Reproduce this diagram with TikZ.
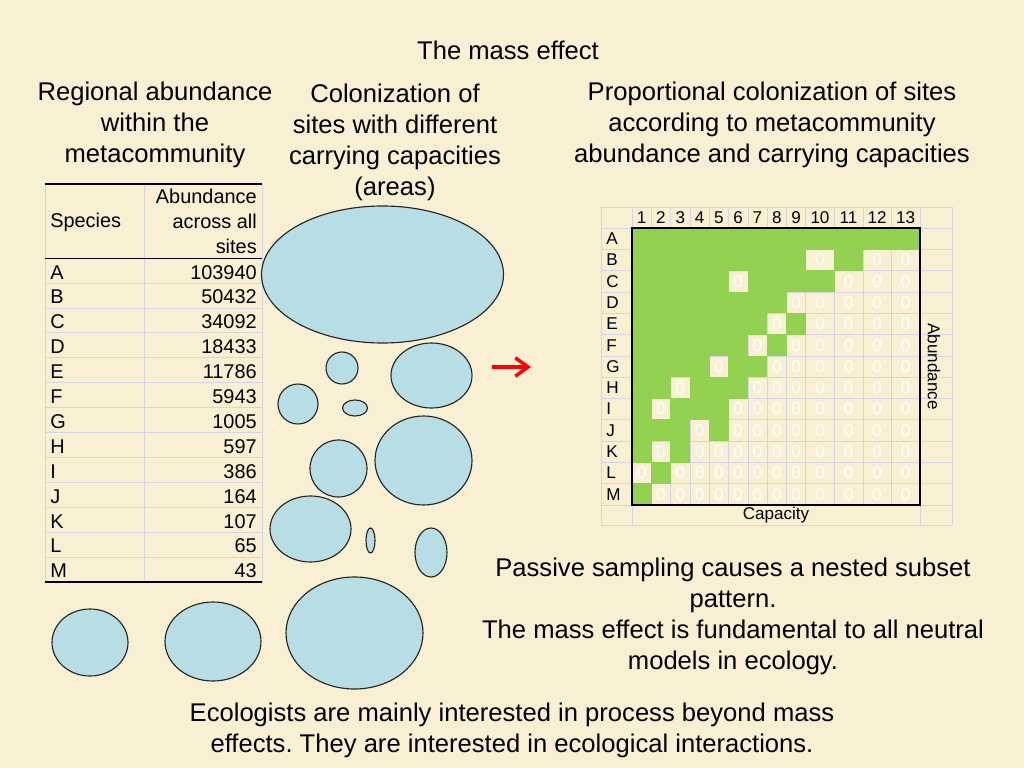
\documentclass[tikz,border=0pt]{standalone}
\usepackage{fontspec}
\setmainfont{Liberation Sans}
\frenchspacing
\usetikzlibrary{arrows.meta,positioning}
\definecolor{parch}{RGB}{249,239,210}
\definecolor{pool}{RGB}{183,222,228}
\definecolor{occ}{RGB}{146,208,80}
\definecolor{gridc}{RGB}{214,212,226}
\tikzset{
  big/.style={font=\fontsize{18}{21.8}\selectfont, align=center, inner sep=0pt},
  tab/.style={font=\fontsize{14}{17.6}\selectfont, inner sep=0pt},
  mat/.style={font=\fontsize{12}{14}\selectfont, inner sep=0pt},
  zero/.style={mat, text=white},
  site/.style={draw=black!85, line width=0.8pt, fill=pool}
}

\begin{document}
\begin{tikzpicture}[x=0.703125pt, y=-0.703125pt]
        \fill[parch] (0,0) rectangle (1024,768);
        \useasboundingbox (0,0) rectangle (1024,768);

        \node[big] (title) at (508,50) {The mass effect};
        \node[big] (regional) at (155,125) {Regional abundance\\within the\\metacommunity};
        \node[big] (colon) at (395,142.5) {Colonization of\\sites with different\\carrying capacities\\(areas)};
        \node[big] (propo) at (772,125) {Proportional colonization of sites\\according to metacommunity\\abundance and carrying capacities};
        \node[big] (passive) at (733,616.5) {Passive sampling causes a nested subset\\pattern.\\The mass effect is fundamental to all neutral\\models in ecology.};
        \node[big] (ecolog) at (512,730.5) {Ecologists are mainly interested in process beyond mass\\effects. They are interested in ecological interactions.};

        % abundance table
        \foreach \k in {1,...,12}
            \draw[gridc] (45,{258+24.9*\k}) -- (262,{258+24.9*\k});
        \foreach \x in {45,144,262}
            \draw[gridc] (\x,184) -- (\x,582);
        \draw[line width=0.6pt] (45,258) -- (262,258);
        \draw[line width=1.5pt] (45,184) -- (262,184);
        \draw[line width=1.5pt] (45,582) -- (262,582);
        \node[tab, anchor=west] (species) at (50,222) {Species};
        \node[tab, anchor=east, align=right] (across) at (257,221.5) {Abundance\\across all\\sites};
        \foreach \sp/\ab [count=\i] in {A/103940, B/50432, C/34092, D/18433, E/11786, F/5943,
            G/1005, H/597, I/386, J/164, K/107, L/65, M/43}
        {
            \node[tab, anchor=west] (sp-\sp) at (50,{247.3+24.9*\i}) {\sp};
            \node[tab, anchor=east] (ab-\sp) at (257,{247.3+24.9*\i}) {\ab};
        };

        % sites
        \foreach \cx/\cy/\rx/\ry in {382.5/274.5/121/68.5, 342/368/16/16, 431.5/375.5/40.5/32.5,
            298/404/20/20, 355/408/12.5/8, 423.5/460.5/48.5/44.5, 338.5/468.5/28.5/28.5,
            310.5/529/40.5/33, 370.5/540.5/4.5/12.5, 431/552.5/16/24.5,
            90/642.5/38/33.5, 213/641.5/48/39.5, 354.5/633/68.5/56}
            \draw[site] (\cx,\cy) ellipse [x radius=\rx, y radius=\ry];

        \coordinate (arrow-tail) at (492,367);
        \coordinate (arrow-head) at (531,367);
        \draw[red, line width=2.4pt, -{Straight Barb[length=9pt,width=13pt]}] (arrow-tail) -- (arrow-head);

        % incidence matrix
        \foreach \k in {0,...,13}
            \draw[gridc] (601,{228+21.3*\k}) -- (952,{228+21.3*\k});
        \draw[gridc] (601,207) -- (952,207);
        \draw[gridc] (601,525) -- (952,525);
        \foreach \x in {601,632,920,952}
            \draw[gridc] (\x,207) -- (\x,525);
        \foreach \x in {651.3,670.6,689.9,709.2,728.5,747.8,767.1,786.4,805.7,834.3,862.9,891.4}
            \draw[gridc] (\x,207) -- (\x,505);

        \foreach \c in {1,...,13}
        {
            \pgfmathsetmacro{\xa}{\c<10 ? 632+(\c-1)*19.3 : 805.7+(\c-10)*28.575}
            \pgfmathsetmacro{\cw}{\c<10 ? 19.3 : 28.575}
            \node[mat] (cap-\c) at ({\xa+\cw/2},218) {\c};
        };

        \foreach \lab/\pat [count=\r] in {
            A/{1,1,1,1,1,1,1,1,1,1,1,1,1},
            B/{1,1,1,1,1,1,1,1,1,0,1,0,0},
            C/{1,1,1,1,1,0,1,1,1,1,0,0,0},
            D/{1,1,1,1,1,1,1,1,0,0,0,0,0},
            E/{1,1,1,1,1,1,1,0,1,0,0,0,0},
            F/{1,1,1,1,1,1,0,1,0,0,0,0,0},
            G/{1,1,1,1,0,1,1,0,0,0,0,0,0},
            H/{1,1,0,1,1,1,0,0,0,0,0,0,0},
            I/{1,0,1,1,1,0,0,0,0,0,0,0,0},
            J/{1,1,1,0,1,0,0,0,0,0,0,0,0},
            K/{1,0,1,0,0,0,0,0,0,0,0,0,0},
            L/{0,1,0,0,0,0,0,0,0,0,0,0,0},
            M/{1,0,0,0,0,0,0,0,0,0,0,0,0}}
        {
            \node[mat, anchor=west] (row-\lab) at (606,{217.35+21.3*\r}) {\lab};
            \foreach \v [count=\c] in \pat
            {
                \pgfmathsetmacro{\xa}{\c<10 ? 632+(\c-1)*19.3 : 805.7+(\c-10)*28.575}
                \pgfmathsetmacro{\cw}{\c<10 ? 19.3 : 28.575}
                \ifnum\v=1
                    \fill[occ] ({\xa-0.3},{206.4+21.3*\r}) rectangle ++({\cw+0.6},21.9);
                \else
                    \node[zero] (cell-\lab-\c) at ({\xa+\cw/2},{217.35+21.3*\r}) {0};
                \fi
            };
        };
        \draw[line width=1.1pt] (632,228) rectangle (920,505);

        \node[mat] (capacity) at (776,515.5) {Capacity};
        \node[mat, rotate=-90] (abund) at (934,366.5) {Abundance};
\end{tikzpicture}
\end{document}
